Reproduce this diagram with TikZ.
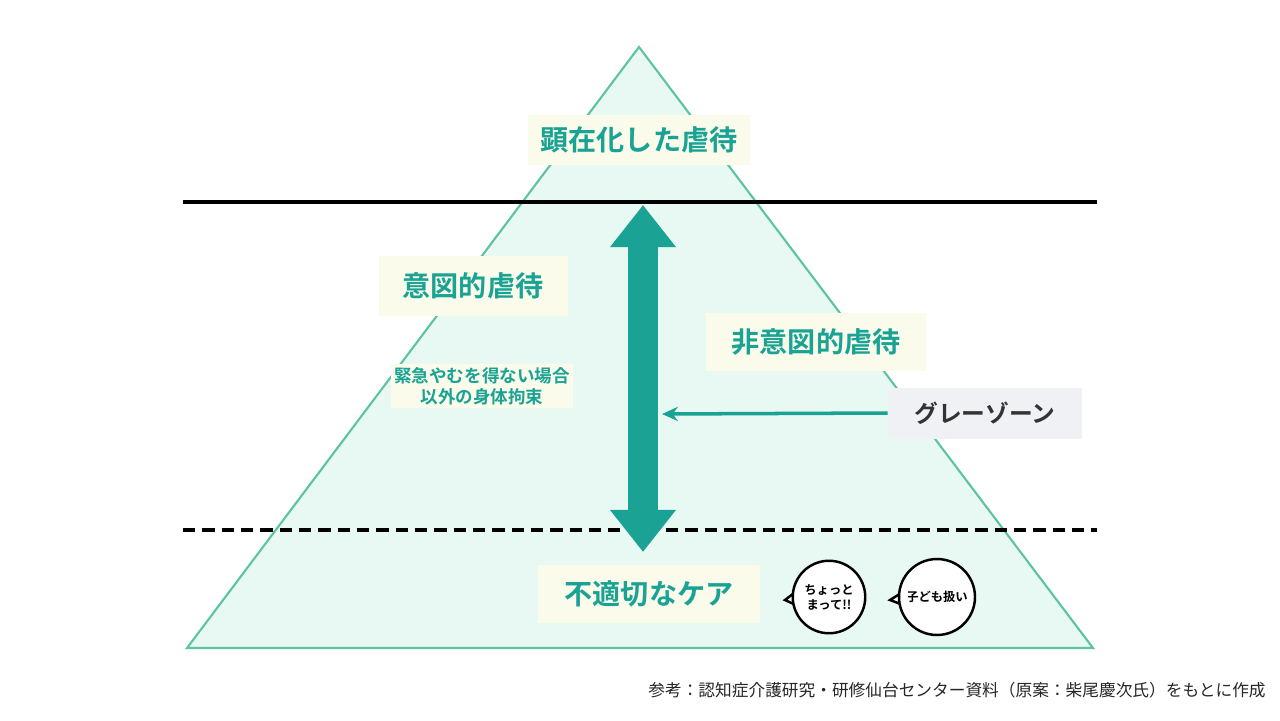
\documentclass[tikz,border=0pt]{standalone}
\usepackage{fontspec}
\setmainfont{Noto Sans CJK JP}[BoldFont={* Bold}]
\newfontfamily\cjk{Noto Sans CJK JP}
\usetikzlibrary{arrows.meta}
\definecolor{teal1}{HTML}{1AA394}
\definecolor{mint}{HTML}{E8F8F2}
\definecolor{mintline}{HTML}{5CC4A0}
\definecolor{cream}{HTML}{FAFBEA}
\definecolor{greybox}{HTML}{F0F1F4}
\begin{document}
\begin{tikzpicture}[x=0.02cm,y=-0.02cm,
label/.style={fill=cream,text=teal1,font=\bfseries\fontsize{16}{18}\selectfont,inner sep=0pt},
small/.style={fill=cream,text=teal1,font=\bfseries\fontsize{10}{12}\selectfont,inner sep=2pt,align=center},
bubble/.style={circle,draw,line width=1.4pt,fill=white,minimum size=1.45cm,inner sep=0pt,align=center,font=\bfseries\fontsize{7}{8.5}\selectfont}]

\useasboundingbox (0,0) rectangle (1280,720);

\coordinate (top) at (639,47);
\coordinate (bl) at (187,648);
\coordinate (br) at (1093,648);
\filldraw[fill=mint,draw=mintline,line width=1.2pt] (top) -- (bl) -- (br) -- cycle;

\coordinate (sl) at (183,202);
\coordinate (sr) at (1097,202);
\draw[line width=2.2pt] (sl) -- (sr);
\coordinate (dl) at (183,530);
\coordinate (dr) at (1097,530);
\draw[line width=2.2pt,dash pattern=on 7pt off 4pt] (dl) -- (dr);

% big double arrow
\coordinate (at) at (643,205);
\coordinate (ab) at (643,552);
\draw[teal1,line width=17pt,{Triangle[width=36pt,length=24pt]}-{Triangle[width=36pt,length=24pt]}] (at) -- (ab);

\node[label,minimum width=222*0.02cm,minimum height=50*0.02cm] (overt) at (639,140) {顕在化した虐待};
\node[label,minimum width=189*0.02cm,minimum height=60*0.02cm] (intent) at (473,286) {意図的虐待};
\node[label,minimum width=220*0.02cm,minimum height=58*0.02cm] (unintent) at (816,342) {非意図的虐待};
\node[small] (restrain) at (482,386) {緊急やむを得ない場合\\以外の身体拘束};
\node[fill=greybox,text=black!80,font=\bfseries\fontsize{13.5}{15}\selectfont,minimum width=194*0.02cm,minimum height=51*0.02cm,inner sep=0pt] (grey) at (985,413) {グレーゾーン};
\coordinate (gz) at (662,414);
\draw[teal1,line width=2pt,-{Stealth[length=9pt,width=8pt]}] (grey.west) -- (gz);

\node[label,minimum width=222*0.02cm,minimum height=58*0.02cm] (care) at (649,594) {不適切なケア};

% speech bubbles
\coordinate (t1) at (785,600);
\coordinate (t2) at (890,600);
\filldraw[fill=white,line width=1.4pt] (798,590) -- (t1) -- (798,606);
\filldraw[fill=white,line width=1.4pt] (906,590) -- (t2) -- (906,606);
\node[bubble] (b1) at (829,597) {ちょっと\\まって!!};
\node[bubble,minimum size=1.52cm] (b2) at (937,597) {子ども扱い};
\fill[white] (797,592) rectangle (801,604);
\fill[white] (904,592) rectangle (908,604);

\node[anchor=east,font=\fontsize{9.5}{11}\selectfont,text=black!85,inner sep=0pt] (src) at (1266,690) {参考：認知症介護研究・研修仙台センター資料（原案：柴尾慶次氏）をもとに作成};
\end{tikzpicture}
\end{document}
